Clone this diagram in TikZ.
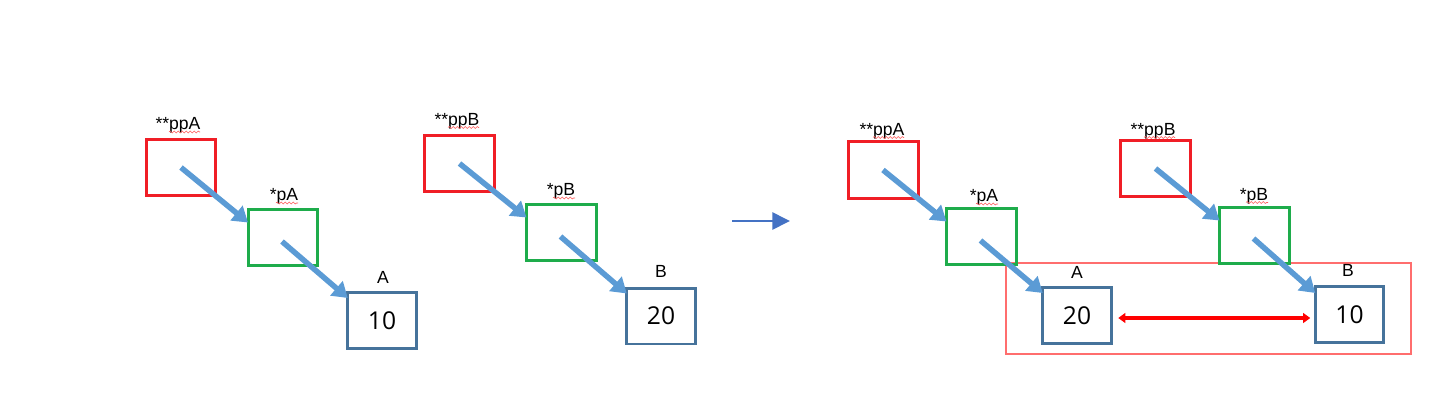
\documentclass[tikz,border=0pt]{standalone}
\usepackage{fontspec}
\setmainfont{Liberation Sans}
\newfontfamily\numfont{Open Sans}
\usetikzlibrary{arrows.meta,calc,decorations.pathmorphing}
\definecolor{cred}{RGB}{240,30,38}
\definecolor{cgreen}{RGB}{30,172,75}
\definecolor{cblue}{RGB}{70,115,155}
\definecolor{carrow}{RGB}{91,155,213}
\definecolor{cmid}{RGB}{68,114,196}
\definecolor{cframe}{RGB}{255,110,110}
\begin{document}
\begin{tikzpicture}[x=0.02cm,y=-0.02cm,
  box/.style={draw, line width=0.06cm, minimum width=1.4cm, minimum height=1.14cm, inner sep=0pt, outer sep=0pt},
  rbox/.style={box, draw=cred},
  gbox/.style={box, draw=cgreen},
  bbox/.style={box, draw=cblue, minimum width=1.37cm, minimum height=1.12cm, font=\numfont\fontsize{14}{16}\selectfont},
  lab/.style={anchor=base, inner sep=0pt, font=\fontsize{10}{12}\selectfont},
  parr/.style={draw=carrow, line width=0.11cm, -{Triangle[length=8.5pt,width=10.5pt]}},
  squig/.style={draw=red!65, line width=0.012cm, decorate, decoration={snake, amplitude=0.02cm, segment length=0.08cm}},
  ]
\useasboundingbox (0,0) rectangle (1444,406);

% ---------- left group A ----------
\node[rbox] (rA1) at (181,167.5) {};
\node[gbox] (gA1) at (283,237.5) {};
\node[bbox] (bA1) at (382,320.5) {10};
\node[lab] (lrA1) at (178,129.5) {**ppA};
\node[lab] (lgA1) at (284,200.5) {*pA};
\node[lab] (lbA1) at (383,283) {A};

% ---------- left group B ----------
\node[rbox] (rB1) at (459.5,163.5) {};
\node[gbox] (gB1) at (561.5,232.5) {};
\node[bbox] (bB1) at (661,316) {20};
\node[lab] (lrB1) at (457,125) {**ppB};
\node[lab] (lgB1) at (561,195.5) {*pB};
\node[lab] (lbB1) at (661,277) {B};

% ---------- middle arrow ----------
\coordinate (m1) at (732,221);
\coordinate (m2) at (790,221);
\draw[draw=cmid, line width=0.055cm, -{Triangle[length=10pt,width=9.6pt]}] (m1) -- (m2);

% ---------- right frame ----------
\node[draw=cframe, line width=0.024cm, minimum width=8.1cm, minimum height=1.82cm, inner sep=0pt] (frame) at (1208.5,308.5) {};

% ---------- right group A ----------
\node[rbox] (rA2) at (883,170) {};
\node[gbox] (gA2) at (981.5,236.5) {};
\node[bbox] (bA2) at (1077,315.5) {20};
\node[lab] (lrA2) at (882,135) {**ppA};
\node[lab] (lgA2) at (984,201.5) {*pA};
\node[lab] (lbA2) at (1077,278) {A};

% ---------- right group B ----------
\node[rbox] (rB2) at (1155.5,168.5) {};
\node[gbox] (gB2) at (1254.5,235.5) {};
\node[bbox] (bB2) at (1349.5,314.5) {10};
\node[lab] (lrB2) at (1153,135) {**ppB};
\node[lab] (lgB2) at (1254,200) {*pB};
\node[lab] (lbB2) at (1348,276.5) {B};

% ---------- squiggles ----------
\foreach \n in {lrA1,lrB1,lrA2,lrB2}{
  \draw[squig] ($(\n.base)+(-9,2.5)$) -- ($(\n.base)+(22,2.5)$);
}
\foreach \n in {lgA1,lgB1,lgA2,lgB2}{
  \draw[squig] ($(\n.base)+(-8,2.5)$) -- ($(\n.base)+(14,2.5)$);
}

% ---------- pointer arrows ----------
\draw[parr] (rA1.center) -- ($(gA1.west)+(0,-15)$);
\draw[parr] ($(gA1.center)+(-1,4)$) -- ($(bA1.west)+(0,-22.5)$);
\draw[parr] (rB1.center) -- ($(gB1.west)+(0,-15)$);
\draw[parr] ($(gB1.center)+(-1,4)$) -- ($(bB1.west)+(0,-22.5)$);
\draw[parr] (rA2.center) -- ($(gA2.west)+(0,-15)$);
\draw[parr] ($(gA2.center)+(-1,4)$) -- ($(bA2.west)+(0,-22.5)$);
\draw[parr] (rB2.center) -- ($(gB2.west)+(0,-15)$);
\draw[parr] ($(gB2.center)+(-1,3)$) -- ($(bB2.west)+(0,-21.5)$);

% ---------- swap arrow ----------
\draw[draw=red, line width=0.075cm, {Triangle[length=4pt,width=5.5pt]}-{Triangle[length=4pt,width=5.5pt]}]
  ($(bA2.east)+(7,2.5)$) -- ($(bB2.west)+(-5,3.5)$);
\end{tikzpicture}
\end{document}
